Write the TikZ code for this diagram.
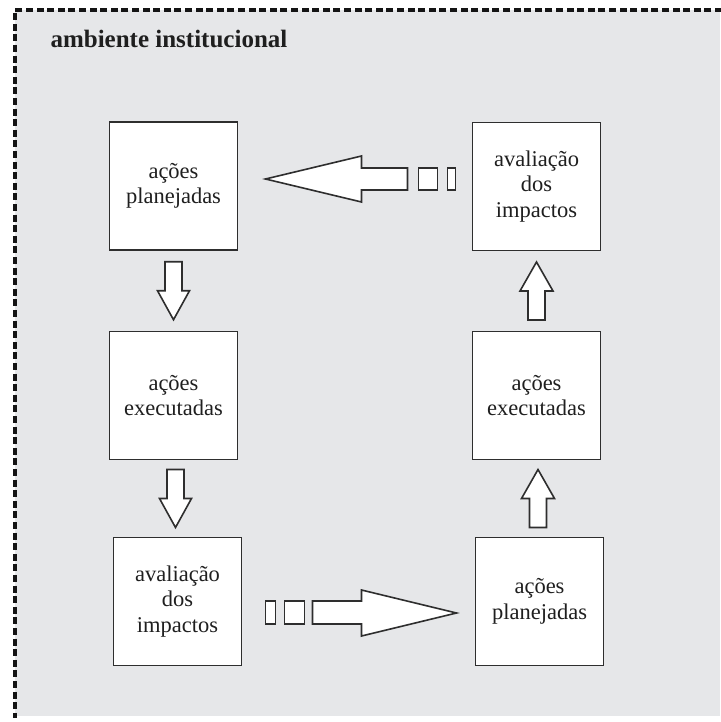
\documentclass[tikz,border=0pt]{standalone}
\usepackage{fontspec}
\setmainfont{Liberation Serif}
\usepackage{xcolor}
\usetikzlibrary{calc}

\definecolor{bggray}{HTML}{E6E7E9}
\definecolor{linegray}{HTML}{2E2E2E}

\begin{document}
\begin{tikzpicture}[x=1pt, y=-1pt,
  every node/.style={font=\fontsize{22.5}{25.5}\selectfont, text=black!88},
  stage/.style={draw=linegray, line width=1.6pt, fill=white, minimum width=128pt, minimum height=128pt, align=center, inner sep=0pt, outer sep=0pt},
  blockarrow/.style={draw=linegray, line width=1.6pt, fill=white, line join=miter}]
\useasboundingbox (0,0) rectangle (720,722);
\fill[bggray] (15,10) rectangle (720,716);
\draw[black!92, line width=3.2pt, dash pattern=on 7pt off 3.6pt] (722,10) -- (15,10) -- (15,718);
\node[anchor=base west, font=\fontsize{25}{30}\selectfont\bfseries] (title) at (47,48) {ambiente institucional};

\node[stage] (pl1) at (173.5,186) {ações\\planejadas};
\node[stage] (ex1) at (173.5,395.5) {ações\\executadas};
\node[stage] (av1) at (177.5,601.5) {avaliação\\dos\\impactos};
\node[stage] (pl2) at (539.5,601.5) {ações\\planejadas};
\node[stage] (ex2) at (536.5,395.5) {ações\\executadas};
\node[stage] (av2) at (536.5,186.5) {avaliação\\dos\\impactos};

% downward arrows, left column
\foreach \a/\b in {pl1/ex1, ex1/av1}
  \draw[blockarrow] ($(\a.south)!0.5!(\b.north)$) ++(-8.5,-29) -- ++(17,0) -- ++(0,29) -- ++(7.5,0)
    -- ++(-16,29) -- ++(-16,-29) -- ++(7.5,0) -- cycle;
% upward arrows, right column
\foreach \a/\b in {pl2/ex2, ex2/av2}
  \draw[blockarrow] ($(\a.north)!0.5!(\b.south)$) ++(-8.5,29) -- ++(17,0) -- ++(0,-29) -- ++(8,0)
    -- ++(-16.5,-29) -- ++(-16.5,29) -- ++(8,0) -- cycle;

% av2 -> pl1
\draw[blockarrow] ($(pl1.east)+(28,-7)$) -- ++(96,-23) -- ++(0,12) -- ++(46,0) -- ++(0,22)
  -- ++(-46,0) -- ++(0,12) -- cycle;
\draw[blockarrow] ($(av2.west)+(-54,-18.5)$) rectangle ++(19,22);
\draw[blockarrow] ($(av2.west)+(-25,-18.5)$) rectangle ++(8,22);

% av1 -> pl2
\draw[blockarrow] ($(av1.east)+(24,-0.5)$) rectangle ++(10,23);
\draw[blockarrow] ($(av1.east)+(43,-0.5)$) rectangle ++(20,23);
\draw[blockarrow] ($(av1.east)+(71,-0.5)$) -- ++(49,0) -- ++(0,-11) -- ++(95,23) -- ++(-95,23)
  -- ++(0,-12) -- ++(-49,0) -- cycle;
\end{tikzpicture}
\end{document}
